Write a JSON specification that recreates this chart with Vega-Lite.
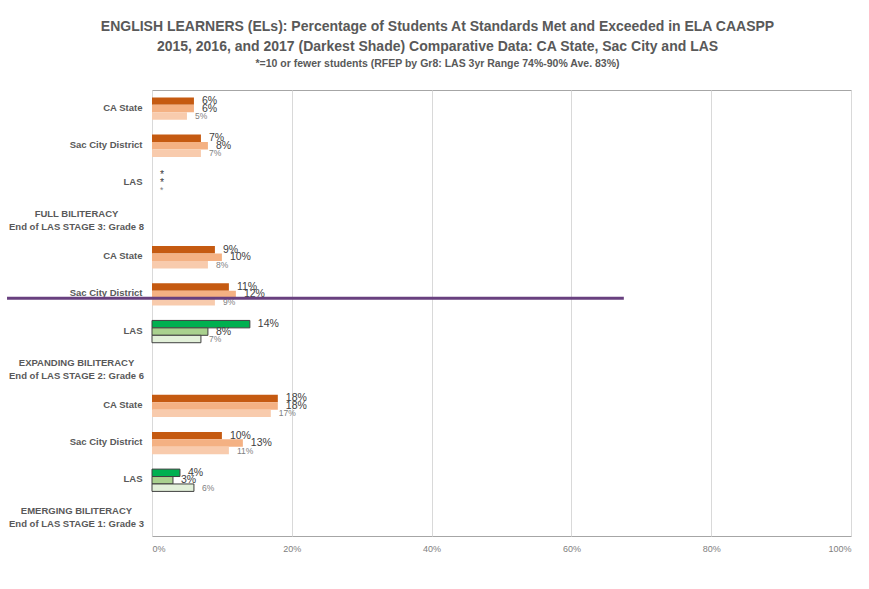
{
  "$schema": "https://vega.github.io/schema/vega-lite/v6.json",
  "width": 699,
  "height": 446,
  "autosize": {"type": "none"},
  "padding": {"left": 152, "top": 90, "right": 18, "bottom": 53},
  "background": "white",
  "title": {
    "text": ["ENGLISH LEARNERS (ELs): Percentage of Students At Standards Met and Exceeded in ELA CAASPP", "2015, 2016, and 2017 (Darkest Shade) Comparative Data: CA State, Sac City and LAS"],
    "subtitle": "*=10 or fewer students (RFEP by Gr8: LAS 3yr Range 74%-90% Ave. 83%)",
    "anchor": "middle",
    "frame": "group",
    "dx": -64,
    "offset": 21,
    "font": "Liberation Sans",
    "fontSize": 14,
    "fontWeight": "bold",
    "color": "#595959",
    "lineHeight": 20,
    "subtitleFont": "Liberation Sans",
    "subtitleFontSize": 10.5,
    "subtitleFontWeight": "bold",
    "subtitleColor": "#595959",
    "subtitlePadding": 5
  },
  "datasets": {
    "bars": [
      {"row": "CA State~1", "entity": "CA State", "year": "2017", "v": 0.06, "lab": "6%"},
      {"row": "CA State~1", "entity": "CA State", "year": "2016", "v": 0.06, "lab": "6%"},
      {"row": "CA State~1", "entity": "CA State", "year": "2015", "v": 0.05, "lab": "5%"},
      {"row": "Sac City District~1", "entity": "Sac City District", "year": "2017", "v": 0.07, "lab": "7%"},
      {"row": "Sac City District~1", "entity": "Sac City District", "year": "2016", "v": 0.08, "lab": "8%"},
      {"row": "Sac City District~1", "entity": "Sac City District", "year": "2015", "v": 0.07, "lab": "7%"},
      {"row": "LAS~1", "entity": "LAS", "year": "2017", "v": null, "lab": "*"},
      {"row": "LAS~1", "entity": "LAS", "year": "2016", "v": null, "lab": "*"},
      {"row": "LAS~1", "entity": "LAS", "year": "2015", "v": null, "lab": "*"},
      {"row": "CA State~2", "entity": "CA State", "year": "2017", "v": 0.09, "lab": "9%"},
      {"row": "CA State~2", "entity": "CA State", "year": "2016", "v": 0.10, "lab": "10%"},
      {"row": "CA State~2", "entity": "CA State", "year": "2015", "v": 0.08, "lab": "8%"},
      {"row": "Sac City District~2", "entity": "Sac City District", "year": "2017", "v": 0.11, "lab": "11%"},
      {"row": "Sac City District~2", "entity": "Sac City District", "year": "2016", "v": 0.12, "lab": "12%"},
      {"row": "Sac City District~2", "entity": "Sac City District", "year": "2015", "v": 0.09, "lab": "9%"},
      {"row": "LAS~2", "entity": "LAS", "year": "2017", "v": 0.14, "lab": "14%"},
      {"row": "LAS~2", "entity": "LAS", "year": "2016", "v": 0.08, "lab": "8%"},
      {"row": "LAS~2", "entity": "LAS", "year": "2015", "v": 0.07, "lab": "7%"},
      {"row": "CA State~3", "entity": "CA State", "year": "2017", "v": 0.18, "lab": "18%"},
      {"row": "CA State~3", "entity": "CA State", "year": "2016", "v": 0.18, "lab": "18%"},
      {"row": "CA State~3", "entity": "CA State", "year": "2015", "v": 0.17, "lab": "17%"},
      {"row": "Sac City District~3", "entity": "Sac City District", "year": "2017", "v": 0.10, "lab": "10%"},
      {"row": "Sac City District~3", "entity": "Sac City District", "year": "2016", "v": 0.13, "lab": "13%"},
      {"row": "Sac City District~3", "entity": "Sac City District", "year": "2015", "v": 0.11, "lab": "11%"},
      {"row": "LAS~3", "entity": "LAS", "year": "2017", "v": 0.04, "lab": "4%"},
      {"row": "LAS~3", "entity": "LAS", "year": "2016", "v": 0.03, "lab": "3%"},
      {"row": "LAS~3", "entity": "LAS", "year": "2015", "v": 0.06, "lab": "6%"}
    ],
    "annot": [
      {"row": "Sac City District~2", "x1": -0.2074, "x2": 0.675}
    ]
  },
  "config": {
    "view": {"stroke": "#a6a6a6", "strokeWidth": 1},
    "font": "Liberation Sans"
  },
  "encoding": {
    "y": {
      "field": "row",
      "type": "nominal",
      "scale": {
        "domain": ["CA State~1", "Sac City District~1", "LAS~1", "FULL BILITERACY|End of LAS STAGE 3: Grade 8", "CA State~2", "Sac City District~2", "LAS~2", "EXPANDING BILITERACY|End of LAS STAGE 2: Grade 6", "CA State~3", "Sac City District~3", "LAS~3", "EMERGING BILITERACY|End of LAS STAGE 1: Grade 3"],
        "paddingInner": 0.4,
        "paddingOuter": 0.2
      },
      "axis": {
        "title": null,
        "ticks": false,
        "domain": false,
        "grid": false,
        "labelFont": "Liberation Sans",
        "labelFontSize": 9.5,
        "labelFontWeight": "bold",
        "labelColor": "#595959",
        "labelLineHeight": 13,
        "labelLimit": 200,
        "labelExpr": "split(split(datum.label, '~')[0], '|')",
        "labelAlign": {"condition": {"test": "indexof(datum.value, '|') >= 0", "value": "center"}, "value": "right"},
        "labelPadding": {"condition": {"test": "indexof(datum.value, '|') >= 0", "value": 76}, "value": 10},
        "labelOffset": {"condition": {"test": "indexof(datum.value, '|') >= 0", "value": -6}, "value": -1}
      }
    }
  },
  "layer": [
    {
      "data": {"name": "bars"},
      "transform": [
        {"filter": "datum.v != null"},
        {"calculate": "(datum.entity == 'LAS' ? 'L' : 'O') + datum.year", "as": "key"}
      ],
      "mark": {"type": "bar", "strokeWidth": 1},
      "encoding": {
        "x": {
          "field": "v",
          "type": "quantitative",
          "scale": {"domain": [0, 1], "nice": false, "clamp": false},
          "axis": {
            "title": null,
            "format": ".0%",
            "values": [0, 0.2, 0.4, 0.6, 0.8, 1],
            "ticks": false,
            "domain": false,
            "grid": true,
            "gridColor": "#d9d9d9",
            "labelFont": "Liberation Sans",
            "labelFontSize": 9,
            "labelColor": "#808080",
            "labelPadding": 8
          }
        },
        "yOffset": {"field": "year", "type": "nominal", "sort": ["2017", "2016", "2015"], "scale": {"paddingInner": 0, "paddingOuter": 0}},
        "color": {
          "field": "key",
          "type": "nominal",
          "scale": {
            "domain": ["O2017", "O2016", "O2015", "L2017", "L2016", "L2015"],
            "range": ["#c55a11", "#f4b183", "#f8cbad", "#00b050", "#a9d18e", "#e2f0d9"]
          },
          "legend": null
        },
        "stroke": {
          "condition": {"test": "datum.entity == 'LAS'", "value": "#3f3f3f"},
          "value": null
        }
      }
    },
    {
      "data": {"name": "bars"},
      "transform": [
        {"calculate": "datum.v == null ? 0 : datum.v", "as": "tx"}
      ],
      "mark": {"type": "text", "align": "left", "baseline": "middle", "dx": 8, "font": "Liberation Sans"},
      "encoding": {
        "x": {"field": "tx", "type": "quantitative"},
        "yOffset": {"field": "year", "type": "nominal", "sort": ["2017", "2016", "2015"]},
        "text": {"field": "lab"},
        "color": {
          "condition": {"test": "datum.year == '2015'", "value": "#808080"},
          "value": "#404040"
        },
        "size": {
          "condition": {"test": "datum.year == '2015'", "value": 8.5},
          "value": 10.5
        }
      }
    },
    {
      "data": {"name": "annot"},
      "mark": {"type": "rule", "color": "#68407f", "strokeWidth": 3},
      "encoding": {
        "y": {"field": "row", "type": "nominal", "bandPosition": 0.67},
        "x": {"field": "x1", "type": "quantitative"},
        "x2": {"field": "x2"}
      }
    }
  ]
}
